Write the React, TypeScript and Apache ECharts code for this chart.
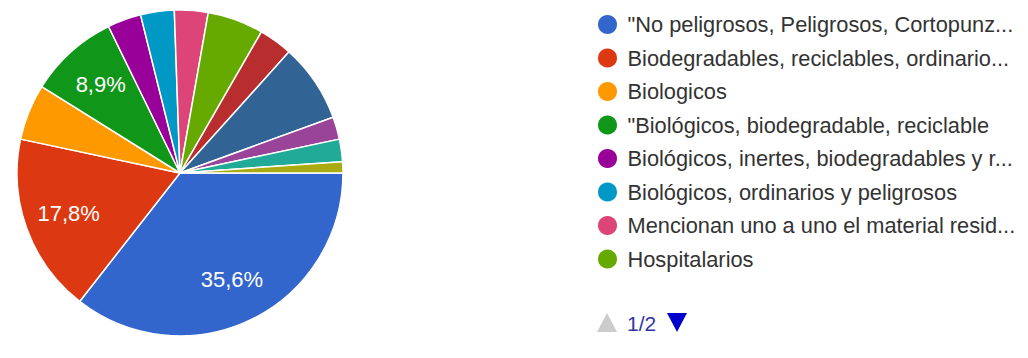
import React, { useEffect, useRef } from "react";
import * as echarts from "echarts";

// Response categories, in slice order (clockwise from 3 o'clock)
const categories = [
  "\"No peligrosos, Peligrosos, Cortopunz...",
  "Biodegradables, reciclables, ordinario...",
  "Biologicos",
  "\"Biológicos, biodegradable, reciclable",
  "Biológicos, inertes, biodegradables y r...",
  "Biológicos, ordinarios y peligrosos",
  "Mencionan uno a uno el material resid...",
  "Hospitalarios",
  "Ordinarios",
  "Peligrosos",
  "Reciclables",
  "Residuos sólidos",
  "Otros",
];

// Number of mentions per category
const values = [32, 16, 5, 8, 3, 3, 3, 5, 3, 7, 2, 2, 1];

const colors = [
  "#3366cc", "#dc3912", "#ff9900", "#109618", "#990099", "#0099c6",
  "#dd4477", "#66aa00", "#b82e2e", "#316395", "#994499", "#22aa99", "#aaaa11",
];

// Legend page 1 of 2 shows the first eight entries
const legendPageSize = 8;
const pageLabel = "1/2";

const FONT = "Arial, 'Liberation Sans', sans-serif";

export default function App() {
  const ref = useRef<HTMLDivElement>(null);

  useEffect(() => {
    if (!ref.current) return;
    const chart = echarts.init(ref.current, undefined, { renderer: "svg" });
    const total = values.reduce((a, b) => a + b, 0);
    const data = categories.map((name, i) => ({
      name,
      value: values[i],
      itemStyle: { color: colors[i] },
    }));

    chart.setOption({
      animation: false,
      backgroundColor: "#ffffff",
      legend: {
        type: "plain",
        orient: "vertical",
        left: 596,
        top: 13,
        padding: 0,
        icon: "circle",
        itemWidth: 30,
        itemHeight: 21,
        itemGap: 10.5,
        selectedMode: false,
        data: categories.slice(0, legendPageSize),
        textStyle: {
          fontFamily: FONT,
          fontSize: 21.8,
          color: "#333333",
        },
      },
      series: [
        {
          type: "pie",
          center: [180, 173],
          radius: [0, 163],
          startAngle: 0,
          clockwise: true,
          silent: true,
          label: { show: false },
          labelLine: { show: false },
          itemStyle: { borderColor: "#ffffff", borderWidth: 1.5 },
          data,
        },
        {
          // transparent ring that carries the percentage labels
          type: "pie",
          center: [180, 173],
          radius: [68, 163],
          startAngle: 0,
          clockwise: true,
          silent: true,
          avoidLabelOverlap: false,
          itemStyle: { color: "transparent", borderWidth: 0 },
          labelLine: { show: false },
          label: {
            show: true,
            position: "inside",
            color: "#ffffff",
            fontFamily: FONT,
            fontSize: 22,
            formatter: (p: any) => {
              const pct = (p.value / total) * 100;
              return pct >= 8 ? pct.toFixed(1).replace(".", ",") + "%" : "";
            },
          },
          data: categories.map((name, i) => ({ name, value: values[i] })),
        },
      ],
      graphic: [
        {
          type: "polygon",
          shape: { points: [[607, 313], [617, 332], [597, 332]] },
          style: { fill: "#cccccc" },
        },
        {
          type: "text",
          x: 627,
          y: 323,
          style: {
            text: pageLabel,
            fill: "#3333aa",
            fontFamily: FONT,
            fontSize: 21,
            verticalAlign: "middle",
          },
        },
        {
          type: "polygon",
          shape: { points: [[667, 313], [687, 313], [677, 332]] },
          style: { fill: "#0000cc" },
        },
      ],
    });

    return () => chart.dispose();
  }, []);

  return (
    <div
      ref={ref}
      style={{ position: "fixed", left: 0, top: 0, width: 1028, height: 358 }}
    />
  );
}
